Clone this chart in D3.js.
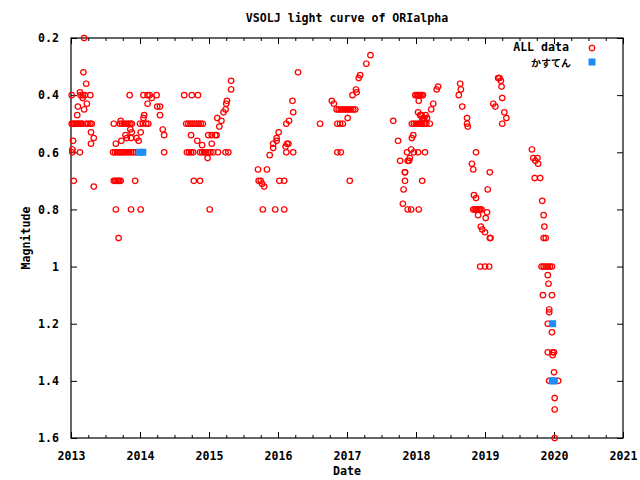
<!DOCTYPE html>
<html><head><meta charset="utf-8">
<script src="https://cdn.jsdelivr.net/npm/d3@7"></script>
<style>
body{margin:0;background:#fff;}
text{font-family:"DejaVu Sans Mono","Liberation Mono",monospace;font-weight:bold;font-size:11.6px;fill:#000;}
</style></head><body>
<svg id="c" width="640" height="480"></svg>
<script>
const chartTitle = "VSOLJ light curve of ORIalpha";
const xLabel = "Date";
const yLabel = "Magnitude";
const seriesNames = ["ALL data", "かすてん"];
const xTicks = [2013, 2014, 2015, 2016, 2017, 2018, 2019, 2020, 2021];
const yTicks = [0.2, 0.4, 0.6, 0.8, 1.0, 1.2, 1.4, 1.6];

// [decimal year, magnitude]
const allData = [
  // 2012-13
  [2013.01,0.40],[2013.01,0.50],[2013.03,0.56],[2013.02,0.59],[2013.02,0.60],[2013.13,0.60],[2013.04,0.70],
  [2013.19,0.20],[2013.18,0.32],[2013.22,0.36],[2013.13,0.39],[2013.14,0.40],[2013.17,0.40],[2013.20,0.40],
  [2013.28,0.40],[2013.17,0.41],[2013.23,0.43],[2013.10,0.44],[2013.19,0.45],[2013.09,0.47],
  [2013.03,0.50],[2013.05,0.50],[2013.07,0.50],[2013.09,0.50],[2013.11,0.50],[2013.13,0.50],[2013.15,0.50],
  [2013.17,0.50],[2013.22,0.50],[2013.25,0.50],[2013.28,0.50],[2013.30,0.50],
  [2013.29,0.53],[2013.33,0.55],[2013.29,0.57],[2013.33,0.72],
  // 2013-14
  [2013.62,0.50],[2013.71,0.50],[2013.74,0.50],[2013.77,0.50],[2013.80,0.50],[2013.83,0.50],[2013.86,0.50],
  [2013.88,0.50],[2014.00,0.50],[2014.04,0.50],[2014.09,0.50],[2014.12,0.50],
  [2013.61,0.60],[2013.64,0.60],[2013.67,0.60],[2013.70,0.60],[2013.72,0.60],[2013.75,0.60],[2013.78,0.60],
  [2013.81,0.60],[2013.84,0.60],[2013.87,0.60],[2013.90,0.60],[2013.94,0.60],
  [2013.85,0.40],[2014.05,0.40],[2014.11,0.40],[2014.14,0.40],[2014.24,0.40],[2014.17,0.41],
  [2013.72,0.49],[2013.86,0.52],[2013.88,0.53],[2013.79,0.54],[2013.81,0.55],[2013.87,0.55],[2013.73,0.56],
  [2013.65,0.57],[2013.95,0.55],[2013.98,0.56],[2014.01,0.53],[2014.06,0.47],[2014.05,0.48],[2014.11,0.43],
  [2014.25,0.44],[2014.29,0.44],[2014.29,0.47],[2014.33,0.52],[2014.35,0.54],[2014.35,0.60],
  [2013.62,0.70],[2013.64,0.70],[2013.66,0.70],[2013.68,0.70],[2013.70,0.70],[2013.72,0.70],[2013.93,0.70],
  [2013.65,0.80],[2013.87,0.80],[2014.01,0.80],[2013.69,0.90],
  // 2014-15
  [2014.64,0.40],[2014.75,0.40],[2014.84,0.40],
  [2014.67,0.50],[2014.70,0.50],[2014.73,0.50],[2014.76,0.50],[2014.79,0.50],[2014.82,0.50],[2014.85,0.50],
  [2014.88,0.50],[2014.91,0.50],
  [2014.74,0.54],[2014.99,0.54],[2015.04,0.54],[2015.09,0.54],[2015.11,0.54],
  [2014.68,0.60],[2014.71,0.60],[2014.74,0.60],[2014.77,0.60],[2014.87,0.60],[2014.90,0.60],[2014.93,0.60],
  [2014.96,0.60],[2014.99,0.60],[2015.02,0.60],[2015.06,0.60],[2015.13,0.60],[2015.24,0.60],[2015.28,0.60],
  [2014.83,0.56],[2014.90,0.575],[2014.98,0.62],[2015.04,0.57],
  [2015.12,0.48],[2015.18,0.49],[2015.15,0.51],[2015.21,0.46],[2015.24,0.45],[2015.25,0.43],[2015.26,0.42],
  [2015.32,0.38],[2015.32,0.35],
  [2014.78,0.70],[2014.87,0.70],[2015.01,0.80],
  // 2015-16
  [2015.71,0.66],[2015.84,0.66],[2015.72,0.70],[2015.75,0.70],[2015.77,0.71],[2015.80,0.72],
  [2015.78,0.80],[2015.96,0.80],[2016.09,0.80],[2016.02,0.70],[2016.09,0.70],
  [2015.88,0.61],[2015.93,0.585],[2015.93,0.57],[2015.98,0.56],[2015.98,0.55],[2016.01,0.53],
  [2016.13,0.57],[2016.15,0.57],[2016.12,0.60],[2016.22,0.60],[2016.11,0.58],[2016.12,0.50],
  [2016.16,0.49],[2016.22,0.46],[2016.21,0.42],[2016.29,0.32],
  // 2016-17
  [2016.61,0.50],[2016.78,0.42],[2016.81,0.43],
  [2016.85,0.45],[2016.88,0.45],[2016.91,0.45],[2016.94,0.45],[2016.97,0.45],[2017.00,0.45],[2017.03,0.45],
  [2017.06,0.45],[2017.09,0.45],[2017.12,0.45],
  [2016.86,0.50],[2016.90,0.50],[2016.94,0.50],[2016.86,0.60],[2016.91,0.60],
  [2017.01,0.48],[2017.08,0.40],[2017.13,0.38],[2017.14,0.39],[2017.17,0.34],[2017.19,0.33],
  [2017.28,0.29],[2017.34,0.26],[2017.04,0.70],
  // 2017-18
  [2017.67,0.49],[2017.74,0.56],[2017.77,0.63],[2017.84,0.67],[2017.87,0.60],[2017.93,0.59],[2017.94,0.55],
  [2017.96,0.54],[2017.97,0.60],[2018.03,0.60],[2018.13,0.60],[2017.90,0.63],[2017.91,0.62],[2017.88,0.63],
  [2017.94,0.50],[2017.97,0.50],[2018.00,0.50],[2018.03,0.50],[2018.06,0.50],[2018.09,0.50],[2018.12,0.50],
  [2018.15,0.50],[2018.20,0.50],
  [2017.99,0.40],[2018.01,0.40],[2018.03,0.40],[2018.04,0.40],[2018.06,0.40],[2018.08,0.40],[2018.10,0.40],
  [2018.04,0.42],[2018.03,0.46],[2018.08,0.47],[2018.12,0.48],[2018.16,0.48],[2018.22,0.45],[2018.25,0.43],
  [2018.30,0.38],[2018.32,0.37],[2018.06,0.47],[2018.10,0.48],[2018.14,0.47],[2018.09,0.49],
  [2017.81,0.78],[2017.88,0.80],[2017.93,0.80],[2018.04,0.80],[2017.82,0.73],[2017.84,0.70],[2018.09,0.70],
  [2017.84,0.67],
  // 2018-19
  [2018.64,0.36],[2018.65,0.38],[2018.62,0.40],[2018.67,0.44],[2018.74,0.48],[2018.74,0.50],[2018.75,0.51],
  [2018.87,0.60],[2018.81,0.64],[2018.83,0.66],[2019.07,0.67],[2019.04,0.73],[2018.84,0.75],[2018.87,0.76],
  [2018.83,0.80],[2018.85,0.80],[2018.87,0.80],[2018.89,0.80],[2018.91,0.80],[2018.93,0.80],[2018.95,0.80],
  [2019.03,0.81],[2018.90,0.82],[2019.01,0.83],[2018.94,0.86],[2018.96,0.87],[2019.00,0.88],[2019.07,0.90],
  [2019.08,0.90],[2018.93,1.00],[2019.00,1.00],[2019.06,1.00],
  [2019.19,0.34],[2019.21,0.34],[2019.23,0.35],[2019.24,0.37],[2019.25,0.41],[2019.12,0.43],[2019.15,0.44],
  [2019.28,0.46],[2019.31,0.48],[2019.25,0.50],
  // 2019-20
  [2019.68,0.59],[2019.70,0.62],[2019.76,0.62],[2019.73,0.63],[2019.77,0.64],[2019.72,0.69],[2019.80,0.69],
  [2019.83,0.77],[2019.85,0.82],[2019.86,0.86],[2019.85,0.90],[2019.88,0.90],
  [2019.82,1.00],[2019.85,1.00],[2019.88,1.00],[2019.91,1.00],[2019.94,1.00],[2019.97,1.00],
  [2019.91,1.03],[2019.92,1.06],[2019.84,1.10],[2019.97,1.10],[2019.93,1.15],[2019.93,1.16],[2019.91,1.20],
  [2019.97,1.23],[2019.91,1.30],[2019.98,1.30],[2020.00,1.30],[2019.98,1.31],[2020.00,1.37],[2019.93,1.40],
  [2020.06,1.40],[2020.01,1.46],[2020.01,1.50],[2020.01,1.60]
];
const kasutenData = [[2013.995,0.60],[2014.04,0.60],[2019.98,1.20],[2019.975,1.40],[2020.005,1.40]];

const svg = d3.select("#c");
svg.append("rect").attr("width",640).attr("height",480).attr("fill","#fff");
const L = 71, R = 623, T = 38, B = 438;
const x = d3.scaleLinear().domain([2013, 2021]).range([L, R]);
const y = d3.scaleLinear().domain([0.2, 1.6]).range([T, B]);
const minorX = d3.range(2013, 2021.001, 0.25);

function styleAxis(g){ g.select(".domain").remove(); g.selectAll("line").attr("stroke","#000"); }

svg.append("g").attr("transform",`translate(0,${B})`)
  .call(d3.axisBottom(x).tickValues(xTicks).tickFormat(d3.format("d")).tickSizeInner(-6).tickPadding(14))
  .call(styleAxis).call(g=>g.selectAll("text").attr("font-size",null).attr("font-family",null).attr("fill","#000"));
svg.append("g").attr("transform",`translate(0,${B})`)
  .call(d3.axisBottom(x).tickValues(minorX).tickFormat("").tickSizeInner(-3)).call(styleAxis);
svg.append("g").attr("transform",`translate(0,${T})`)
  .call(d3.axisTop(x).tickValues(xTicks).tickFormat("").tickSizeInner(-6)).call(styleAxis);
svg.append("g").attr("transform",`translate(0,${T})`)
  .call(d3.axisTop(x).tickValues(minorX).tickFormat("").tickSizeInner(-3)).call(styleAxis);
svg.append("g").attr("transform",`translate(${L},0)`)
  .call(d3.axisLeft(y).tickValues(yTicks).tickFormat(d=>d3.format("")(+d.toFixed(1))).tickSizeInner(-6).tickPadding(12))
  .call(styleAxis).call(g=>g.selectAll("text").attr("font-size",null).attr("font-family",null).attr("fill","#000"));
svg.append("g").attr("transform",`translate(${R},0)`)
  .call(d3.axisRight(y).tickValues(yTicks).tickFormat("").tickSizeInner(-6)).call(styleAxis);

svg.append("rect").attr("x",L).attr("y",T).attr("width",R-L).attr("height",B-T)
  .attr("fill","none").attr("stroke","#000").attr("stroke-width",1.2);

svg.append("text").attr("x",347).attr("y",22).attr("text-anchor","middle").text(chartTitle);
svg.append("text").attr("x",347).attr("y",475).attr("text-anchor","middle").text(xLabel);
svg.append("text").attr("transform","translate(30,238) rotate(-90)").attr("text-anchor","middle").text(yLabel);

const marker = "M-2.7,0A2.7,2.7 0 1,0 2.7,0A2.7,2.7 0 1,0 -2.7,0M-3.4,0H-2.7M2.7,0H3.4M0,-3.4V-2.7M0,2.7V3.4";
const red = "#ff0000", blue = "#1e8cf5";

const plot = svg.append("g");
plot.selectAll("path.all").data(allData).join("path").attr("class","all")
  .attr("transform",d=>`translate(${x(d[0])},${y(d[1])})`)
  .attr("d",marker).attr("fill","none").attr("stroke",red).attr("stroke-width",1.2);
plot.selectAll("rect.kas").data(kasutenData).join("rect").attr("class","kas")
  .attr("x",d=>x(d[0])-3.5).attr("y",d=>y(d[1])-3.5).attr("width",7).attr("height",7).attr("fill",blue);

const lg = svg.append("g");
lg.append("text").attr("x",569).attr("y",51).attr("text-anchor","end").text(seriesNames[0]);
lg.append("path").attr("transform","translate(592,48)").attr("d",marker).attr("fill","none").attr("stroke",red).attr("stroke-width",1.2);
lg.append("text").attr("x",571).attr("y",67).attr("text-anchor","end")
  .style("font-family","'Noto Sans CJK JP'").style("font-size","10px").text(seriesNames[1]);
lg.append("rect").attr("x",588.5).attr("y",58.5).attr("width",7).attr("height",7).attr("fill",blue);
</script></body></html>
